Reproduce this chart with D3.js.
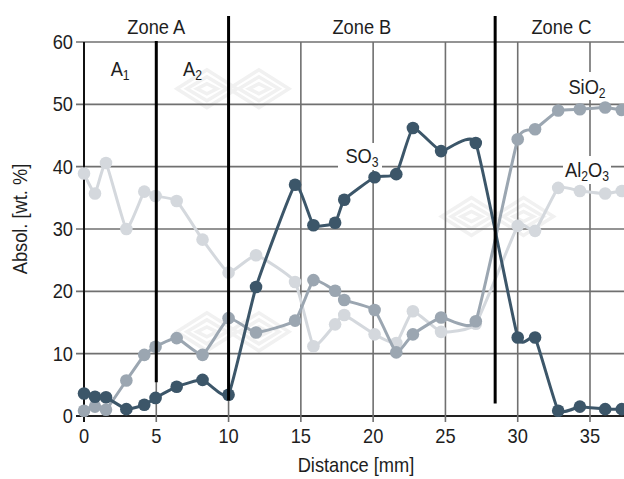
<!DOCTYPE html>
<html>
<head>
<meta charset="utf-8">
<script src="https://cdn.jsdelivr.net/npm/d3@7"></script>
<style>
  body { margin: 0; background: #fff; }
  svg { display: block; font-family: "Liberation Sans", Arial, sans-serif; }
</style>
</head>
<body>
<svg id="chart" width="624" height="479"></svg>
<script>
// distance along the sample [mm]
var distance = [0, 0.76, 1.52, 2.93, 4.17, 4.95, 6.41, 8.2, 10, 11.9, 14.6, 15.87, 17.37, 18.0, 20.1, 21.6, 22.75, 24.7, 27.1, 30.0, 31.2, 32.8, 34.3, 36.05, 37.2];
// absolute contents [wt. %]
var so3 = [3.6, 3.1, 3.0, 1.1, 1.8, 2.9, 4.7, 5.8, 3.4, 20.7, 37.1, 30.6, 31.0, 34.7, 38.3, 38.8, 46.2, 42.5, 43.8, 12.6, 12.6, 0.85, 1.5, 1.1, 1.1];
var sio2 = [0.85, 1.5, 1.0, 5.7, 9.8, 11.1, 12.5, 9.8, 15.7, 13.4, 15.3, 21.8, 20.1, 18.6, 17.0, 10.2, 13.1, 15.8, 15.2, 44.4, 46.0, 49.0, 49.2, 49.5, 49.1];
var al2o3 = [38.9, 35.7, 40.6, 30.0, 36.0, 35.3, 34.5, 28.3, 23.0, 25.8, 21.5, 11.2, 14.7, 16.2, 13.1, 11.7, 16.8, 13.5, 14.8, 30.5, 29.7, 36.6, 36.1, 35.7, 36.1];

var xTicks = [0, 5, 10, 15, 20, 25, 30, 35];
var yTicks = [0, 10, 20, 30, 40, 50, 60];

var zoneNames = ['Zone A', 'Zone B', 'Zone C'];
var zoneBounds = [0, 10, 28.44, 37.6];
var subZoneNames = [['A', '1'], ['A', '2']];
var subZoneBounds = [0, 5, 10];

var svg = d3.select('#chart');

var x = d3.scaleLinear().domain([0, 35]).range([84, 590]);
var y = d3.scaleLinear().domain([0, 60]).range([416, 42]);

// the original type is a condensed sans, so squeeze the glyphs a little
var fontSize = '21px';
var squeeze = 0.87;

function label(parent, px, py, anchor, rotate) {
  return parent.append('text')
    .attr('transform', 'translate(' + px + ',' + py + ')' +
      (rotate ? ' rotate(' + rotate + ')' : '') + ' scale(' + squeeze + ',1)')
    .style('text-anchor', anchor)
    .style('font-size', fontSize)
    .style('fill', '#1e1e1e');
}

// faint watermark diamonds
function watermark(cx, cy) {
  var g = svg.append('g').attr('class', 'watermark');
  [-26, 26].forEach(function(off) {
    [[30, 19], [20, 12], [10, 5]].forEach(function(s) {
      var c = cx + off;
      g.append('path')
        .attr('d', 'M' + (c - s[0]) + ',' + cy + 'L' + c + ',' + (cy - s[1]) +
          'L' + (c + s[0]) + ',' + cy + 'L' + c + ',' + (cy + s[1]) + 'Z')
        .style('fill', 'none')
        .style('stroke', '#f1f1f1')
        .style('stroke-width', 3.5);
    });
  });
}
watermark(x(10.3), y(52.5));
watermark(x(10.3), y(13.5));
watermark(x(28.6), y(32));

// grid
svg.selectAll('.h-grid')
  .data(yTicks)
  .enter().append('line')
  .attr('class', 'h-grid')
  .attr('x1', 76)
  .attr('x2', 624)
  .attr('y1', function(d) { return y(d); })
  .attr('y2', function(d) { return y(d); })
  .style('stroke', function(d) { return d === 0 ? '#222' : '#707070'; })
  .style('stroke-width', function(d) { return d === 0 ? 2 : 1.6; });

svg.selectAll('.v-grid')
  .data(xTicks)
  .enter().append('line')
  .attr('class', 'v-grid')
  .attr('x1', function(d) { return x(d); })
  .attr('x2', function(d) { return x(d); })
  .attr('y1', y(60))
  .attr('y2', 422)
  .style('stroke', function(d) { return d === 0 ? '#111' : '#707070'; })
  .style('stroke-width', function(d) { return d === 0 ? 2 : 1.6; });

// tick labels
yTicks.forEach(function(d) {
  label(svg, 73, y(d) + 7, 'end').text(d);
});
xTicks.forEach(function(d) {
  label(svg, x(d), 443, 'middle').text(d);
});

label(svg, 356, 472, 'middle').text('Distance [mm]');
label(svg, 27, 219, 'middle', -90).text('Absol. [wt. %]');

// series
var series = [
  { name: 'Al2O3', values: al2o3, color: '#d4d8dd' },
  { name: 'SiO2', values: sio2, color: '#9ba6b1' },
  { name: 'SO3', values: so3, color: '#3c5669' }
];

var line = d3.line()
  .x(function(d) { return x(d[0]); })
  .y(function(d) { return y(d[1]); })
  .curve(d3.curveCardinal.tension(0.6));

series.forEach(function(s) {
  var pts = distance.map(function(d, i) { return [d, s.values[i]]; });
  var g = svg.append('g').attr('class', 'series');
  g.append('path')
    .attr('d', line(pts))
    .style('fill', 'none')
    .style('stroke', s.color)
    .style('stroke-width', 3);
  g.selectAll('circle')
    .data(pts)
    .enter().append('circle')
    .attr('cx', function(d) { return x(d[0]); })
    .attr('cy', function(d) { return y(d[1]); })
    .attr('r', 6.3)
    .style('fill', s.color);
});

// zone dividers
svg.append('line')
  .attr('x1', x(5)).attr('x2', x(5))
  .attr('y1', y(60) - 1).attr('y2', y(5.4))
  .style('stroke', '#000').style('stroke-width', 3);
svg.append('line')
  .attr('x1', x(10)).attr('x2', x(10))
  .attr('y1', 16).attr('y2', y(2.5))
  .style('stroke', '#000').style('stroke-width', 3);
svg.append('line')
  .attr('x1', x(28.44)).attr('x2', x(28.44))
  .attr('y1', 16).attr('y2', y(2))
  .style('stroke', '#000').style('stroke-width', 3);

zoneNames.forEach(function(d, i) {
  label(svg, x((zoneBounds[i] + zoneBounds[i + 1]) / 2), 34, 'middle').text(d);
});

function subLabel(parts, px, py, box) {
  var g = svg.append('g');
  if (box) {
    g.append('rect')
      .attr('x', box[0]).attr('y', box[1])
      .attr('width', box[2]).attr('height', box[3])
      .style('fill', '#fff');
  }
  var t = label(g, px, py, 'middle');
  parts.forEach(function(p, i) {
    var ts = t.append('tspan').text(p);
    if (i % 2 === 1) {
      ts.style('font-size', '14px').attr('dy', 4);
    } else if (i > 0) {
      ts.attr('dy', -4);
    }
  });
  return g;
}

subZoneNames.forEach(function(n, i) {
  subLabel(n, x((subZoneBounds[i] + subZoneBounds[i + 1]) / 2), 76);
});

subLabel(['SO', '3'], 362, 163, [338, 143, 44, 27]);
subLabel(['SiO', '2'], 587, 94, [565, 72, 45, 28]);
subLabel(['Al', '2', 'O', '3'], 587, 177, [563, 156, 48, 28]);
</script>
</body>
</html>
